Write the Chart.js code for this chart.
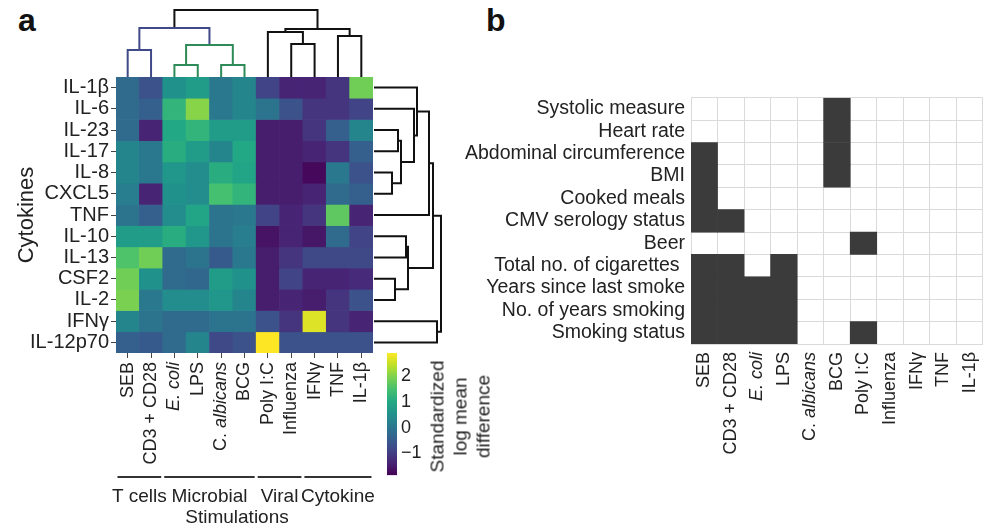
<!DOCTYPE html>
<html>
<head>
<meta charset="utf-8">
<script src="https://cdn.jsdelivr.net/npm/chart.js@4.4.1/dist/chart.umd.min.js"></script>
<style>
  body { margin: 0; background: #fff; width: 1000px; height: 531px; position: relative; overflow: hidden;
         font-family: "Liberation Sans", Arial, sans-serif; color: #222; }
  canvas { position: absolute; }
  .panel { position: absolute; font-weight: bold; font-size: 32px; line-height: 32px; color: #111; }
  .cbtitle { position: absolute; left: 390px; top: 382px; width: 140px; height: 69px;
             transform: rotate(-90deg); text-align: center; font-size: 19px; line-height: 23px; color: #222; }
</style>
</head>
<body>
<div class="panel" style="left:18px;top:4px">a</div>
<div class="panel" style="left:486px;top:4px">b</div>

<canvas id="heat" width="470" height="531" style="left:0;top:0"></canvas>
<canvas id="dendTop" width="470" height="90" style="left:0;top:0"></canvas>
<canvas id="dendRight" width="100" height="531" style="left:370px;top:0"></canvas>
<canvas id="cbar" width="100" height="160" style="left:370px;top:330px"></canvas>
<canvas id="assoc" width="560" height="451" style="left:440px;top:80px"></canvas>
<div class="cbtitle">Standardized<br>log mean<br>difference</div>

<script>
'use strict';

// ---- data ----
const stims = ['SEB', 'CD3 + CD28', 'E. coli', 'LPS', 'C. albicans', 'BCG', 'Poly I:C', 'Influenza', 'IFNγ', 'TNF', 'IL-1β'];
const cytokines = ['IL-1β', 'IL-6', 'IL-23', 'IL-17', 'IL-8', 'CXCL5', 'TNF', 'IL-10', 'IL-13', 'CSF2', 'IL-2', 'IFNγ', 'IL-12p70'];

// standardized log mean difference, one row per cytokine, columns follow stims
const heat = [
  [-0.19, -0.66,  0.53,  0.76,  0.05,  0.29, -0.90, -1.38, -1.38, -1.14,  1.86],
  [-0.19, -0.43,  1.24,  2.05,  0.05,  0.29, -0.05, -0.66, -1.14, -1.14, -0.90],
  [-0.19, -1.38,  1.00,  1.24,  0.76,  0.76, -1.47, -1.47, -1.14, -0.43,  0.29],
  [ 0.29,  0.05,  1.10,  0.76,  0.29,  1.00, -1.47, -1.47, -1.38, -1.14, -0.43],
  [ 0.29,  0.05,  0.62,  0.43,  1.10,  0.91, -1.47, -1.47, -1.76,  0.05, -0.66],
  [ 0.15, -1.38,  0.53,  0.43,  1.48,  1.24, -1.47, -1.47, -1.38, -0.19, -0.43],
  [-0.05, -0.43,  0.43,  0.91, -0.05,  0.05, -0.90, -1.38, -1.14,  1.71, -1.38],
  [ 0.76,  0.76,  1.10,  0.62, -0.05,  0.15, -1.61, -1.38, -1.57, -0.19, -0.90],
  [ 1.57,  1.86, -0.19, -0.05, -0.52,  0.05, -1.47, -1.14, -0.81, -0.81, -0.81],
  [ 1.86,  0.53, -0.19, -0.28,  0.76,  0.53, -1.47, -0.90, -1.38, -1.38, -1.28],
  [ 1.95,  0.05,  0.43,  0.43,  0.62,  0.29, -1.47, -1.38, -1.47, -1.14, -0.66],
  [ 0.29, -0.05, -0.19, -0.19, -0.05, -0.05, -0.66, -1.14,  2.66, -1.14, -1.38],
  [-0.43, -0.52, -0.19,  0.29, -0.81, -0.66,  2.90, -0.66, -0.66, -0.66, -0.66]
];
const cbMin = -1.85, cbMax = 2.9;
const cbTicks = [-1, 0, 1, 2];

// dendrograms: [left node, right node, height]; leaves first, new clusters numbered after them
const colMerges = [[2, 3, 12], [4, 5, 12], [11, 12, 32], [0, 1, 27], [14, 13, 49],
                   [7, 8, 33], [9, 10, 41], [6, 16, 45], [18, 17, 48], [15, 19, 67]];
const colMergeGroup = ['g', 'g', 'g', 'b', 'b', 'k', 'k', 'k', 'k', 'k'];
const rowMerges = [[4, 5, 18], [2, 3, 24], [14, 13, 27], [1, 15, 40], [0, 16, 43], [6, 17, 55],
                   [9, 10, 21], [7, 8, 32], [20, 19, 34], [18, 21, 59], [11, 12, 63], [22, 23, 67]];

const groups = ['T cells', 'Microbial', 'Viral', 'Cytokine'];
const groupSpans = [[0, 1], [2, 5], [6, 7], [8, 10]];

// panel b: covariates significantly associated with each stimulation
const covariates = ['Systolic measure', 'Heart rate', 'Abdominal circumference', 'BMI', 'Cooked meals',
                    'CMV serology status', 'Beer', 'Total no. of cigarettes ', 'Years since last smoke',
                    'No. of years smoking', 'Smoking status'];
const assoc = [
  [0, 0, 0, 0, 0, 1, 0, 0, 0, 0, 0],
  [0, 0, 0, 0, 0, 1, 0, 0, 0, 0, 0],
  [1, 0, 0, 0, 0, 1, 0, 0, 0, 0, 0],
  [1, 0, 0, 0, 0, 1, 0, 0, 0, 0, 0],
  [1, 0, 0, 0, 0, 0, 0, 0, 0, 0, 0],
  [1, 1, 0, 0, 0, 0, 0, 0, 0, 0, 0],
  [0, 0, 0, 0, 0, 0, 1, 0, 0, 0, 0],
  [1, 1, 0, 1, 0, 0, 0, 0, 0, 0, 0],
  [1, 1, 1, 1, 0, 0, 0, 0, 0, 0, 0],
  [1, 1, 1, 1, 0, 0, 0, 0, 0, 0, 0],
  [1, 1, 1, 1, 0, 0, 1, 0, 0, 0, 0]
];

// ---- helpers ----
const FONT = '"Liberation Sans", Arial, sans-serif';
const TXT = '#222';
Chart.defaults.font.family = FONT;
Chart.defaults.color = TXT;

const VIRIDIS = ['#440154', '#482475', '#414487', '#355f8d', '#2a788e', '#21918c',
                 '#22a884', '#44bf70', '#7ad151', '#bddf26', '#fde725'];
const hex = h => [1, 3, 5].map(i => parseInt(h.slice(i, i + 2), 16));
function viridis(t) {
  t = Math.min(1, Math.max(0, t));
  const p = t * (VIRIDIS.length - 1), i = Math.min(Math.floor(p), VIRIDIS.length - 2), f = p - i;
  const a = hex(VIRIDIS[i]), b = hex(VIRIDIS[i + 1]);
  const c = a.map((v, k) => Math.round(v + (b[k] - v) * f));
  return `rgb(${c[0]},${c[1]},${c[2]})`;
}
const valueColor = v => viridis((v - cbMin) / (cbMax - cbMin));

function dendroLinks(nLeaves, merges) {
  const pos = [], hgt = [];
  for (let i = 0; i < nLeaves; i++) { pos[i] = i + 0.5; hgt[i] = 0; }
  return merges.map(([a, b, h], k) => {
    pos[nLeaves + k] = (pos[a] + pos[b]) / 2;
    hgt[nLeaves + k] = h;
    return [[pos[a], hgt[a]], [pos[a], h], [pos[b], h], [pos[b], hgt[b]]];
  });
}

// tick label 'C. albicans' needs an upright genus letter and italic species name
const mixedLabel = {
  id: 'mixedLabel',
  afterDraw(chart, args, opts) {
    const sc = chart.scales.x, ctx = chart.ctx;
    const x = sc.getPixelForValue(4);
    ctx.save();
    ctx.translate(x, chart.chartArea.bottom + opts.offset);
    ctx.rotate(-Math.PI / 2);
    ctx.textAlign = 'right';
    ctx.textBaseline = 'middle';
    ctx.fillStyle = TXT;
    ctx.font = `italic 18px ${FONT}`;
    ctx.fillText('albicans', 0, 0);
    const w = ctx.measureText('albicans').width;
    ctx.font = `18px ${FONT}`;
    ctx.fillText('C. ', -w, 0);
    ctx.restore();
  }
};

const groupLabels = {
  id: 'groupLabels',
  afterDraw(chart) {
    const sc = chart.scales.x, ctx = chart.ctx;
    const half = (sc.getPixelForValue(1) - sc.getPixelForValue(0)) / 2;
    ctx.save();
    ctx.strokeStyle = '#333';
    ctx.lineWidth = 2;
    ctx.fillStyle = TXT;
    ctx.font = `19px ${FONT}`;
    ctx.textAlign = 'center';
    ctx.textBaseline = 'middle';
    groupSpans.forEach(([s, e], i) => {
      const x0 = sc.getPixelForValue(s) - half + 1.5, x1 = sc.getPixelForValue(e) + half - 1.5;
      ctx.beginPath();
      ctx.moveTo(x0, 477);
      ctx.lineTo(x1, 477);
      ctx.stroke();
      ctx.fillText(groups[i], (x0 + x1) / 2, 497);
    });
    ctx.fillText('Stimulations', 237, 518);
    ctx.restore();
  }
};

const tickFont = ctx => ({ size: 18, family: FONT, style: ctx.index === 2 ? 'italic' : 'normal' });
const stimLabel = (v, i) => (i === 4 ? '' : stims[i]);

// ---- heatmap ----
new Chart(document.getElementById('heat'), {
  type: 'bar',
  data: {
    labels: stims,
    datasets: cytokines.map((name, r) => ({
      label: name,
      data: stims.map(() => 1),
      backgroundColor: heat[r].map(valueColor),
      borderWidth: 0,
      barPercentage: 1,
      categoryPercentage: 1
    }))
  },
  options: {
    responsive: false,
    animation: false,
    layout: { padding: { top: 77, right: 97, left: 0, bottom: 0 } },
    plugins: { legend: { display: false }, tooltip: { enabled: false }, mixedLabel: { offset: 9 } },
    scales: {
      x: {
        stacked: true,
        offset: true,
        grid: { drawOnChartArea: false, offset: false, tickLength: 5, color: '#444' },
        border: { display: false },
        ticks: { autoSkip: false, maxRotation: 90, minRotation: 90, padding: 4, font: tickFont, callback: stimLabel },
        afterFit: s => { s.height = 531 - 353; }
      },
      y: { stacked: true, min: 0, max: 13, reverse: true, display: false },
      yl: {
        type: 'category',
        labels: cytokines,
        position: 'left',
        offset: true,
        grid: { drawOnChartArea: false, offset: false, tickLength: 5, color: '#444' },
        border: { display: false },
        ticks: { autoSkip: false, padding: 2, font: { size: 20 } },
        title: { display: true, text: 'Cytokines', font: { size: 22 }, padding: { top: 14, bottom: 0 } },
        afterFit: s => { s.width = 116; }
      }
    }
  },
  plugins: [mixedLabel, groupLabels]
});

// ---- dendrograms ----
const groupColor = { g: '#2e8b57', b: '#404a88', k: '#111' };
new Chart(document.getElementById('dendTop'), {
  type: 'scatter',
  data: {
    datasets: dendroLinks(stims.length, colMerges).map((pts, k) => ({
      data: pts.map(([x, y]) => ({ x, y })),
      showLine: true, borderColor: groupColor[colMergeGroup[k]], borderWidth: 2,
      pointRadius: 0, clip: false, borderJoinStyle: 'miter'
    }))
  },
  options: {
    responsive: false, animation: false,
    layout: { padding: { top: 7, bottom: 13, left: 116, right: 97 } },
    plugins: { legend: { display: false }, tooltip: { enabled: false } },
    scales: { x: { min: 0, max: 11, display: false }, y: { min: 0, max: 70, display: false } }
  }
});

new Chart(document.getElementById('dendRight'), {
  type: 'scatter',
  data: {
    datasets: dendroLinks(cytokines.length, rowMerges).map(pts => ({
      data: pts.map(([y, x]) => ({ x, y })),
      showLine: true, borderColor: '#111', borderWidth: 2,
      pointRadius: 0, clip: false, borderJoinStyle: 'miter'
    }))
  },
  options: {
    responsive: false, animation: false,
    layout: { padding: { top: 77, bottom: 531 - 353, left: 4, right: 26 } },
    plugins: { legend: { display: false }, tooltip: { enabled: false } },
    scales: { x: { min: 0, max: 70, display: false }, y: { min: 0, max: 13, reverse: true, display: false } }
  }
});

// ---- colour bar ----
new Chart(document.getElementById('cbar'), {
  type: 'bar',
  data: {
    labels: [''],
    datasets: [{
      data: [[cbMin, cbMax]],
      barPercentage: 1, categoryPercentage: 1, borderWidth: 0,
      backgroundColor: ctx => {
        const area = ctx.chart.chartArea;
        if (!area) return '#fff';
        const g = ctx.chart.ctx.createLinearGradient(0, area.bottom, 0, area.top);
        VIRIDIS.forEach((c, i) => g.addColorStop(i / (VIRIDIS.length - 1), c));
        return g;
      }
    }]
  },
  options: {
    responsive: false, animation: false,
    layout: { padding: { top: 23, bottom: 13, left: 17, right: 0 } },
    plugins: { legend: { display: false }, tooltip: { enabled: false } },
    scales: {
      x: { display: false },
      y: {
        position: 'right', min: cbMin, max: cbMax,
        grid: { display: false, drawTicks: false }, border: { display: false },
        afterBuildTicks: s => { s.ticks = cbTicks.map(value => ({ value })); },
        ticks: { padding: 4, font: { size: 18 }, callback: v => (v < 0 ? '\u2212' + Math.abs(v) : String(v)) },
        afterFit: s => { s.width = 73; }
      }
    }
  }
});

// ---- panel b ----
new Chart(document.getElementById('assoc'), {
  type: 'bar',
  data: {
    labels: stims,
    datasets: covariates.map((name, r) => ({
      label: name,
      data: stims.map(() => 1),
      backgroundColor: assoc[r].map(v => (v ? '#3b3b3b' : 'rgba(0,0,0,0)')),
      borderWidth: 0,
      barPercentage: 1,
      categoryPercentage: 1
    }))
  },
  options: {
    responsive: false,
    animation: false,
    layout: { padding: { top: 17, right: 17, left: 0, bottom: 0 } },
    plugins: { legend: { display: false }, tooltip: { enabled: false }, mixedLabel: { offset: 8 } },
    scales: {
      x: {
        stacked: true,
        offset: true,
        grid: { offset: true, color: '#dadada', drawTicks: false },
        border: { display: false },
        ticks: { autoSkip: false, maxRotation: 90, minRotation: 90, padding: 8, font: tickFont, callback: stimLabel },
        afterFit: s => { s.height = 451 - 264; }
      },
      y: {
        stacked: true, min: 0, max: 11, reverse: true,
        grid: { color: '#dadada', drawTicks: false },
        border: { display: false },
        ticks: { display: false, stepSize: 1 },
        afterFit: s => { s.width = 0; }
      },
      yl: {
        type: 'category',
        labels: covariates,
        position: 'left',
        offset: true,
        grid: { display: false, drawTicks: false },
        border: { display: false },
        ticks: { autoSkip: false, padding: 6, font: { size: 19.5 } },
        afterFit: s => { s.width = 251; }
      }
    }
  },
  plugins: [mixedLabel]
});
</script>
</body>
</html>
